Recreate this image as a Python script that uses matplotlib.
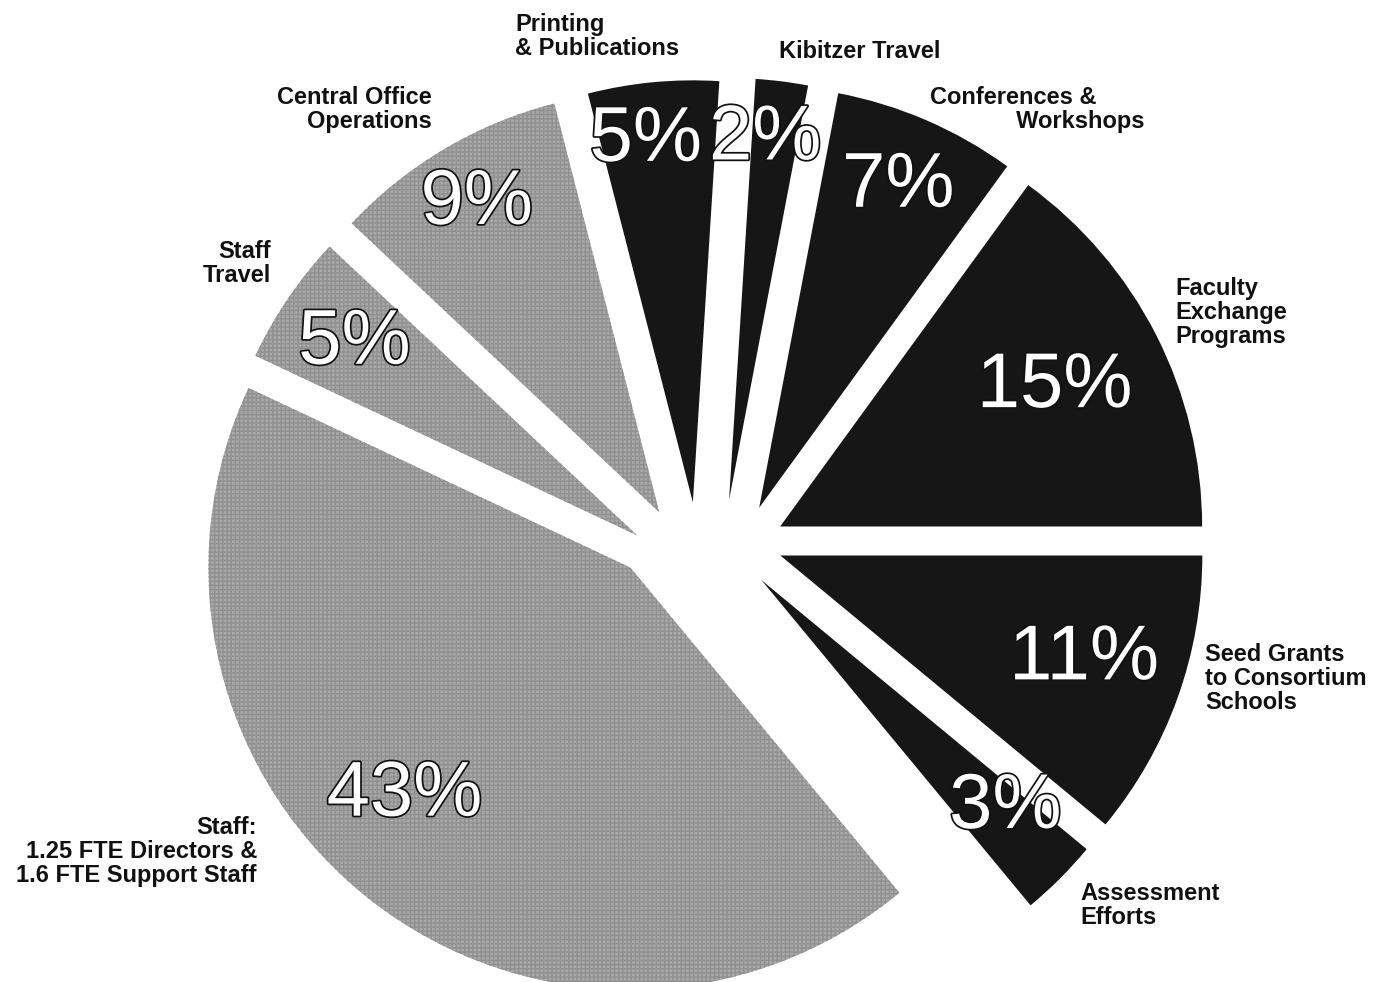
import numpy as np
import matplotlib.pyplot as plt
from matplotlib.patches import Wedge
import matplotlib.patheffects as pe

# budget shares, counter-clockwise from 3 o'clock
labels = ['Faculty\nExchange\nPrograms',
          'Conferences &\n             Workshops',
          'Kibitzer Travel',
          'Printing\n& Publications',
          'Central Office\nOperations',
          'Staff\nTravel',
          'Staff:\n1.25 FTE Directors &\n1.6 FTE Support Staff',
          'Assessment\nEfforts',
          'Seed Grants\nto Consortium\nSchools']
shares = [15, 7, 2, 5, 9, 5, 43, 3, 11]
pct_labels = ['15%', '7%', '2%', '5%', '9%', '5%', '43%', '3%', '11%']
dark = [True, True, True, True, False, False, False, True, True]

# layout (pixels)
W, H = 1385, 982
C0 = np.array([704.0, H - 549.0])
R = 422.0
explode = np.array([79, 69, 55, 48, 58, 68, 75, 65, 76], dtype=float)  # outward push
tilt = np.array([-11, -30, -20, 8, 20, 22, -38, 16, 15], dtype=float)   # push direction vs bisector
gaps = np.array([29, 28, 31, 36, 35, 32, 32, 93, 31], dtype=float)      # white gap before each wedge
pct_r = [0.73, 0.83, 0.86, 0.865, 0.85, 0.81, 0.76, 0.79, 0.76]
pct_dang = [0, 0, 1.5, 2, 0, 0, -7, 2, 1]
lbl_pos = [(1175, 277, 'left'), (930, 86, 'left'), (779, 40, 'left'),
           (515, 13, 'left'), (432, 86, 'right'), (271, 240, 'right'),
           (257, 816, 'right'), (1080, 882, 'left'), (1205, 643, 'left')]

n = len(shares)
theta = 3.6 * np.cumsum([0] + shares[:-1])
mids = np.radians(theta + 1.8 * np.array(shares) + tilt)
U = np.column_stack([np.cos(mids), np.sin(mids)])

# shift every wedge so the gaps between neighbours come out as given,
# staying as close as possible to the plain explode
A = np.zeros((n, 2 * n))
for k in range(n):
    t = np.radians(theta[k])
    nv = np.array([-np.sin(t), np.cos(t)])
    prev = (k - 1) % n
    A[k, 2 * k:2 * k + 2] += nv
    A[k, 2 * prev:2 * prev + 2] -= nv
base = (explode[:, None] * U).ravel()
corr = np.linalg.lstsq(A, gaps - A @ base, rcond=None)[0]
shift = (base + corr).reshape(n, 2)

fig = plt.figure(figsize=(W / 100, H / 100), dpi=100)
ax = fig.add_axes([0, 0, 1, 1])
ax.set_xlim(0, W)
ax.set_ylim(0, H)
ax.set_aspect('equal')
ax.axis('off')

plt.rcParams['hatch.linewidth'] = 1.0
stroke = [pe.withStroke(linewidth=2.5, foreground='#111111')]

for i in range(n):
    c = C0 + shift[i]
    t1 = theta[i]
    t2 = t1 + shares[i] * 3.6
    if dark[i]:
        w = Wedge(c, R, t1, t2, facecolor='#161616', edgecolor='none', lw=0)
    else:
        w = Wedge(c, R, t1, t2, facecolor='#a8a8a8', edgecolor='#909090',
                  hatch='++++', lw=0)
    ax.add_patch(w)

    mid = np.radians((t1 + t2) / 2 + pct_dang[i])
    px = c[0] + pct_r[i] * R * np.cos(mid)
    py = c[1] + pct_r[i] * R * np.sin(mid)
    ax.text(px, py, pct_labels[i], color='white', fontsize=56,
            family='Liberation Sans', ha='center', va='center',
            path_effects=stroke)

    lx, ly, ha = lbl_pos[i]
    ax.text(lx, H - ly, labels[i], fontsize=17, fontweight='bold',
            family='Liberation Sans', ha=ha, va='top', multialignment=ha,
            linespacing=1.05, color='#111111')

plt.savefig('out.png', dpi=100, facecolor='white')
